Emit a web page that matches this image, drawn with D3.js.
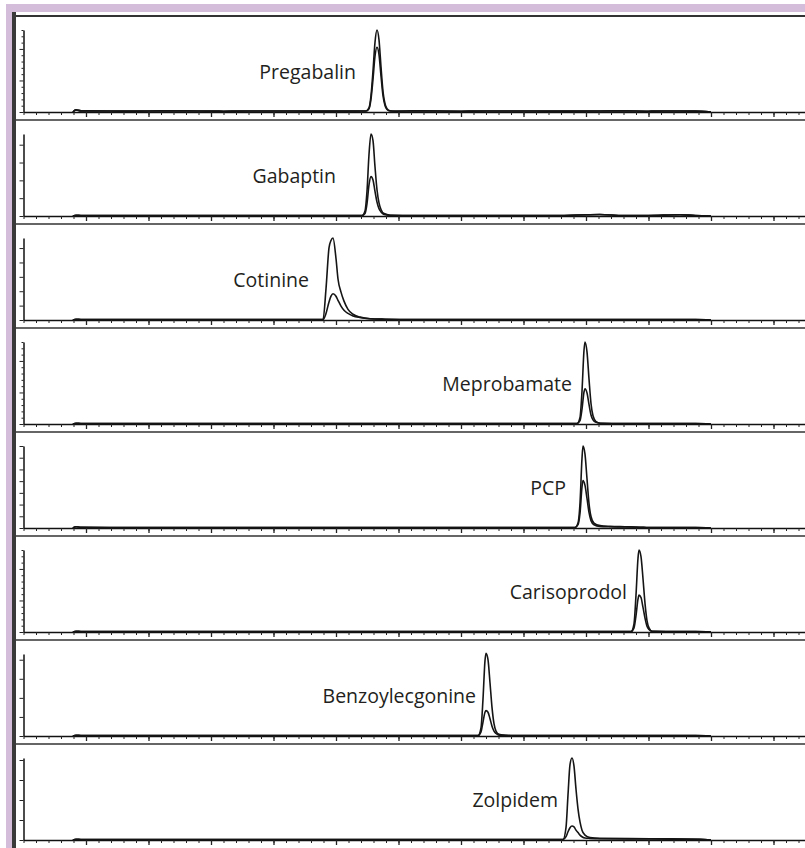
<!DOCTYPE html>
<html><head><meta charset="utf-8">
<script src="https://cdn.jsdelivr.net/npm/d3@7"></script>
<style>html,body{margin:0;padding:0;background:#fff}</style>
</head><body>
<svg id="chart" width="805" height="848"></svg>
<script>
// ---------- data ----------
const compounds = ["Pregabalin","Gabaptin","Cotinine","Meprobamate","PCP","Carisoprodol","Benzoylecgonine","Zolpidem"];
// retention time (axis units) where each label ends
const labelEndTimes = [5.320, 5.000, 4.568, 8.776, 8.680, 9.656, 7.240, 8.552];
// y-axis full scale (tick units) and major tick interval per panel
const yAxisTop = [13, 4.6, 5.7, 13, 7, 13, 4.3, 4.1];
const yMajorEvery = [5, 1, 1, 5, 1, 5, 1, 1];

const peakTimes = [
  [5.480,5.528,5.560,5.592,5.624,5.656,5.688,5.720,5.752,5.784,5.816,5.864,5.944],
  [5.416,5.464,5.496,5.528,5.560,5.592,5.624,5.656,5.688,5.720,5.768,5.864],
  [4.792,4.840,4.888,4.920,4.952,5.000,5.032,5.080,5.128,5.192,5.272,5.384,5.544,5.784],
  [8.856,8.904,8.936,8.968,8.984,9.016,9.048,9.080,9.112,9.160,9.224],
  [8.824,8.872,8.904,8.936,8.952,8.984,9.016,9.048,9.080,9.128,9.224,9.384,9.624,9.864],
  [9.720,9.768,9.800,9.832,9.848,9.880,9.912,9.944,9.976,10.008,10.056],
  [7.272,7.320,7.352,7.384,7.400,7.432,7.464,7.496,7.528,7.560,7.608,7.704],
  [8.632,8.680,8.712,8.744,8.776,8.808,8.840,8.872,8.904,8.936,8.984,9.064,9.224,10.024,10.824]
];
// quantifier trace (% of panel full scale)
const quantIntensity = [
  [1.2,5,20,50,85,100,88,55,25,10,4,1.5,1.2],
  [0.5,6,30,75,100,92,60,32,16,8,3,1],
  [0.5,38,88,97,100,75,50,34,23,13,7,3.5,1.5,1],
  [0.5,8,40,90,100,88,55,25,10,3,1],
  [0.5,6,30,85,100,90,60,30,14,6,3,2,1.5,1],
  [0.5,10,45,90,100,92,65,35,14,5,1],
  [0.5,10,45,92,101,93,65,35,15,6,2,1],
  [0.5,15,55,92,100,90,62,38,22,12,6,3,2,1.5,1]
];
// qualifier trace (% of panel full scale)
const qualIntensity = [
  [1.2,4,16,40,68,79,70,44,20,8,3,1.2,1.0],
  [0.5,3,15,38,48,44,30,17,9,5,2,1],
  [0.5,8,22,29,32,29,24,17,12,8,5,3,1.5,1],
  [0.5,4,18,39,43,38,24,11,5,2,1],
  [0.5,4,18,50,58,52,36,19,9,4,2,1.5,1.2,1],
  [0.5,5,20,40,45,42,30,17,7,3,1],
  [0.5,5,17,29,31,29,21,12,6,3,1,0.8],
  [0.5,4,10,15,17,16,12,9,6,4,2.5,2,1.5,1.2,1]
];
const baselineTimes = [0.79,0.84,0.92,1.6,2.4,3.2,4.0,4.7,6.3,7.0,7.8,8.5,9.22,9.6,10.0,10.5,10.75,11.0];
const baselineLevels = [
  [0,2.6,1.4,1.1,1.4,1.0,1.3,1.1,1.4,1.0,1.3,1.1,1.2,1.4,1.0,1.3,1.1,0],
  [0,1.0,0.6,0.5,0.6,0.5,0.6,0.5,0.6,0.5,0.6,0.5,1.8,0.5,0.6,1.6,0.6,0],
  [0,1.0,0.6,0.5,0.6,0.5,0.6,0.5,0.6,0.5,0.6,0.5,0.6,0.5,0.6,0.5,0.6,0],
  [0,1.0,0.6,0.5,0.6,0.5,0.6,0.5,0.6,0.5,0.6,0.5,0.6,0.5,0.6,0.5,0.6,0],
  [0,1.6,0.8,0.5,0.6,0.5,0.6,0.5,0.6,0.5,0.6,0.5,0.6,0.5,0.6,0.5,0.6,0],
  [0,1.0,0.6,0.5,0.6,0.5,0.6,0.5,0.6,0.5,0.6,0.5,0.6,0.5,0.6,0.5,0.6,0],
  [0,1.0,0.6,0.5,0.6,0.5,0.6,0.5,0.6,0.5,0.6,0.5,0.6,0.5,0.6,0.5,0.6,0],
  [0,1.0,0.6,0.5,0.6,0.5,0.6,0.5,0.6,0.5,0.6,0.5,0.6,0.5,0.6,0.5,0.6,0]
];
const xMajorStep = 1, xMinorStep = 0.2, xMax = 12.5;

// ---------- layout ----------
const W = 805, H = 848;
const svg = d3.select("#chart");
svg.append("rect").attr("width", W).attr("height", H).attr("fill", "#fff");
svg.append("rect").attr("x", 6).attr("y", 4).attr("width", W - 6).attr("height", H - 4).attr("fill", "#d3bddb");
svg.append("rect").attr("x", 16).attr("y", 12).attr("width", W - 16).attr("height", H - 12).attr("fill", "#fff");
svg.append("rect").attr("x", 12).attr("y", 12).attr("width", 4).attr("height", H - 12).attr("fill", "#3a3a3a");

const panelTop0 = 16, panelStep = 104, axisTopOff = 14, baseOff = 96;
const x = d3.scaleLinear().domain([0, xMax]).range([23.5, 804.75]);

compounds.forEach((name, i) => {
  const top = panelTop0 + i * panelStep;
  const base = top + baseOff, ytop = top + axisTopOff;
  const g = svg.append("g");
  g.append("line").attr("x1", 16).attr("x2", W).attr("y1", top).attr("y2", top)
    .attr("stroke", i === 0 ? "#333" : "#666").attr("stroke-width", 2);

  const y = d3.scaleLinear().domain([0, 100]).range([base, ytop]);
  const yt = d3.scaleLinear().domain([0, yAxisTop[i]]).range([base, ytop]);

  const pt = peakTimes[i];
  const build = (vals) => {
    const pts = [];
    baselineTimes.forEach((t, k) => { if (t < pt[0]) pts.push([t, baselineLevels[i][k]]); });
    pt.forEach((t, k) => pts.push([t, vals[k]]));
    baselineTimes.forEach((t, k) => { if (t > pt[pt.length - 1]) pts.push([t, baselineLevels[i][k]]); });
    return pts;
  };
  const line = d3.line().x(d => x(d[0])).y(d => y(d[1])).curve(d3.curveMonotoneX);
  [quantIntensity[i], qualIntensity[i]].forEach(vals => {
    g.append("path").attr("d", line(build(vals))).attr("fill", "none")
      .attr("stroke", "#151515").attr("stroke-width", 1.6).attr("stroke-linejoin", "round");
  });

  const xMinor = d3.range(0, xMax + 1e-6, xMinorStep);
  const xMajor = d3.range(0, xMax + 1e-6, xMajorStep);
  const xa = g.append("g").attr("transform", `translate(0,${base})`)
    .call(d3.axisBottom(x).tickValues(xMinor).tickSize(3).tickSizeOuter(0).tickFormat(""));
  xa.select(".domain").attr("stroke", "#111").attr("stroke-width", 1.6);
  xa.selectAll(".tick line").attr("stroke", "#222").attr("stroke-width", 1);
  const xb = g.append("g").attr("transform", `translate(0,${base})`)
    .call(d3.axisBottom(x).tickValues(xMajor.slice(1)).tickSize(5).tickSizeOuter(0).tickFormat(""));
  xb.select(".domain").remove();
  xb.selectAll(".tick line").attr("stroke", "#222").attr("stroke-width", 1.3);

  const yVals = d3.range(0, yAxisTop[i] + 1e-6, 1);
  const ya = g.append("g").attr("transform", `translate(${x(0)},0)`)
    .call(d3.axisLeft(yt).tickValues(yVals).tickSize(2).tickSizeOuter(0).tickFormat(""));
  ya.select(".domain").attr("stroke", "#111").attr("stroke-width", 1.5);
  ya.selectAll(".tick line").attr("stroke", "#222").attr("stroke-width", 1)
    .attr("x2", (d, k) => (k % yMajorEvery[i] === 0 ? -4 : -2));

  g.append("text").attr("x", x(labelEndTimes[i])).attr("y", top + 63)
    .attr("text-anchor", "end").attr("font-family", "'Open Sans', sans-serif")
    .attr("font-size", 19.5).attr("fill", "#231f20").text(name);
});
</script>
</body></html>
